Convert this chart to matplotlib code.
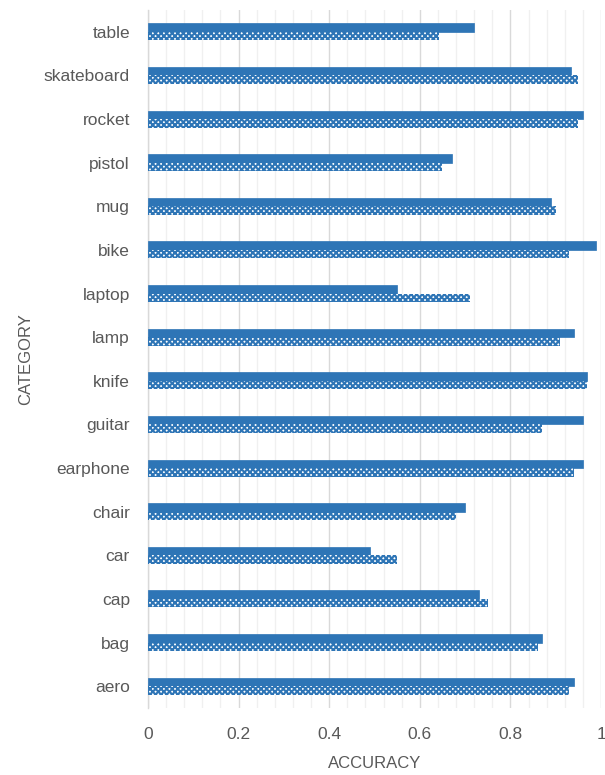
import matplotlib
matplotlib.use("Agg")
import matplotlib.pyplot as plt
import numpy as np
from matplotlib.ticker import MultipleLocator

categories = ["aero", "bag", "cap", "car", "chair", "earphone", "guitar", "knife",
              "lamp", "laptop", "bike", "mug", "pistol", "rocket", "skateboard", "table"]
series_a = [0.94, 0.87, 0.73, 0.49, 0.70, 0.96, 0.96, 0.97,
            0.94, 0.55, 0.99, 0.89, 0.67, 0.96, 0.934, 0.72]
series_b = [0.93, 0.86, 0.75, 0.55, 0.68, 0.94, 0.87, 0.97,
            0.91, 0.71, 0.93, 0.90, 0.65, 0.95, 0.95, 0.642]
x_ticks = [0, 0.2, 0.4, 0.6, 0.8, 1]
x_tick_labels = ["0", "0.2", "0.4", "0.6", "0.8", "1"]

plt.rcParams['font.family'] = ['Liberation Sans', 'DejaVu Sans']
plt.rcParams['hatch.linewidth'] = 1.5

blue = "#2E75B6"
gray = "#595959"

fig = plt.figure(figsize=(6.05, 7.75), dpi=100)
ax = fig.add_axes([148/605, 1-708/775, (601-148)/605, (708-10)/775])

y = np.arange(len(categories))
h = 0.195
ax.barh(y + h/2, series_a, height=h, color=blue, edgecolor=blue, linewidth=0.5, zorder=3)
ax.barh(y - h/2, series_b, height=h, facecolor="white", edgecolor=blue, hatch="xxxxxx",
        linewidth=0, zorder=3)

ax.set_xlim(0, 1)
ax.set_ylim(-0.5, len(categories) - 0.5)
ax.set_xticks(x_ticks)
ax.set_xticklabels(x_tick_labels)
ax.xaxis.set_minor_locator(MultipleLocator(0.04))
ax.set_yticks(y)
ax.set_yticklabels(categories)

ax.grid(axis='x', which='major', color='#d9d9d9', linewidth=1.0, zorder=0)
ax.grid(axis='x', which='minor', color='#f0f0f0', linewidth=1.0, zorder=0)
ax.set_axisbelow(True)

for s in ['top', 'right', 'bottom']:
    ax.spines[s].set_visible(False)
ax.spines['left'].set_color('#d9d9d9')
ax.spines['left'].set_linewidth(1.0)

ax.tick_params(axis='both', which='both', length=0, colors=gray, labelsize=12.5)
ax.tick_params(axis='y', pad=13)
ax.tick_params(axis='x', pad=14)

ax.set_xlabel("ACCURACY", color=gray, fontsize=12, labelpad=10)
ax.set_ylabel("CATEGORY", color=gray, fontsize=12, labelpad=8)

fig.savefig("out.png", dpi=100, facecolor="white")
